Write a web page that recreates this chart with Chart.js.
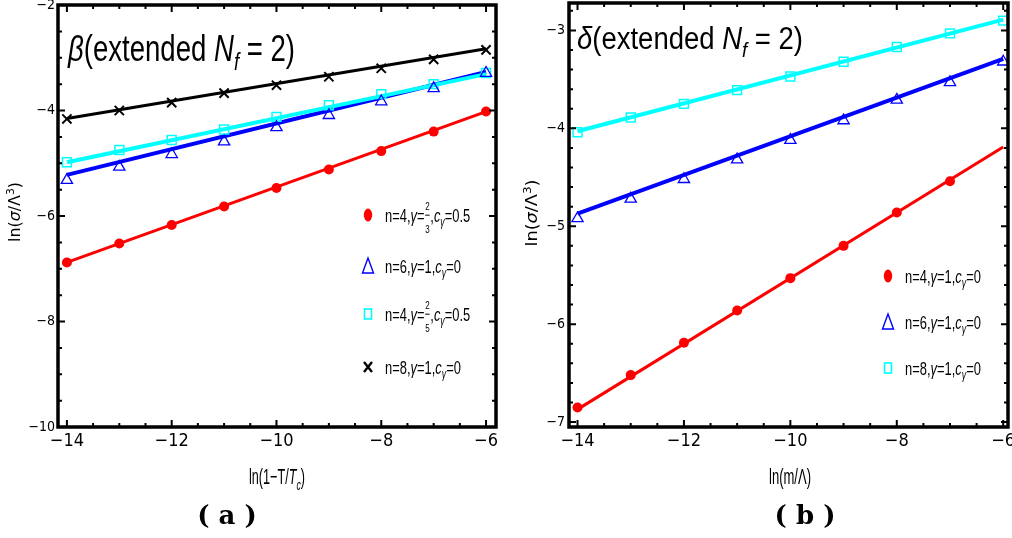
<!DOCTYPE html>
<html>
<head>
<meta charset="utf-8">
<script src="https://cdn.jsdelivr.net/npm/chart.js@4.4.1/dist/chart.umd.min.js"></script>
<style>
body { margin: 0; background: #fff; }
#wrap { position: relative; width: 1012px; height: 538px; overflow: hidden; }
canvas { position: absolute; top: 0; }
</style>
</head>
<body>
<div id="wrap">
  <canvas id="chartA" width="506" height="538" style="left:0"></canvas>
  <canvas id="chartB" width="506" height="538" style="left:506px"></canvas>
</div>
<script>
// x positions of the samples
const xSteps = [-14, -13, -12, -11, -10, -9, -8, -7, -6];
const xStepsShort = [-14, -13, -12, -11, -10, -9, -8, -7];
const fitEnds = [-14, -6];

// panel (a): beta
const redA = [-6.88, -6.52, -6.17, -5.82, -5.47, -5.12, -4.77, -4.40, -4.02];
const blueA = [-5.32, -5.07, -4.83, -4.59, -4.32, -4.09, -3.83, -3.58, -3.29];
const cyanA = [-4.98, -4.75, -4.56, -4.36, -4.12, -3.90, -3.69, -3.50, -3.29];
const blackA = [-4.16, -4.00, -3.85, -3.67, -3.52, -3.36, -3.20, -3.03, -2.85];
const redFitA = [-6.88, -4.02];
const blueFitA = [-5.22, -3.27];
const cyanFitA = [-4.98, -3.31];
const blackFitA = [-4.15, -2.83];

// panel (b): delta
const redB = [-6.85, -6.52, -6.19, -5.86, -5.53, -5.20, -4.86, -4.54];
const blueB = [-4.92, -4.72, -4.52, -4.32, -4.12, -3.92, -3.71, -3.53, -3.32];
const cyanB = [-4.04, -3.89, -3.75, -3.61, -3.47, -3.32, -3.17, -3.03, -2.90];
const redFitB = [-6.87, -4.19];
const blueFitB = [-4.87, -3.29];
const cyanFitB = [-4.03, -2.89];

// tick labels
const xTickLabels = [-14, -12, -10, -8, -6];
const yTickLabelsA = [-10, -8, -6, -4, -2];
const yTickLabelsB = [-7, -6, -5, -4, -3];

// legend texts
const legendA = [
  [{t: 'n=4,'}, {t: 'γ', it: 1}, {t: '='}, {frac: ['2', '3']}, {t: ','}, {t: 'c', it: 1}, {t: 'γ', it: 1, sub: 1}, {t: '=0.5'}],
  [{t: 'n=6,'}, {t: 'γ', it: 1}, {t: '=1,'}, {t: 'c', it: 1}, {t: 'γ', it: 1, sub: 1}, {t: '=0'}],
  [{t: 'n=4,'}, {t: 'γ', it: 1}, {t: '='}, {frac: ['2', '5']}, {t: ','}, {t: 'c', it: 1}, {t: 'γ', it: 1, sub: 1}, {t: '=0.5'}],
  [{t: 'n=8,'}, {t: 'γ', it: 1}, {t: '=1,'}, {t: 'c', it: 1}, {t: 'γ', it: 1, sub: 1}, {t: '=0'}]
];
const legendB = [
  [{t: 'n=4,'}, {t: 'γ', it: 1}, {t: '=1,'}, {t: 'c', it: 1}, {t: 'γ', it: 1, sub: 1}, {t: '=0'}],
  [{t: 'n=6,'}, {t: 'γ', it: 1}, {t: '=1,'}, {t: 'c', it: 1}, {t: 'γ', it: 1, sub: 1}, {t: '=0'}],
  [{t: 'n=8,'}, {t: 'γ', it: 1}, {t: '=1,'}, {t: 'c', it: 1}, {t: 'γ', it: 1, sub: 1}, {t: '=0'}]
];

const SANS = "'Liberation Sans', Arial, sans-serif";
const NARROW = "'Liberation Sans Narrow', 'Arial Narrow', 'DejaVu Sans Condensed', sans-serif";
const DEJAVU = "'DejaVu Sans', sans-serif";

const RED = '#ff0000', BLUE = '#0000ff', CYAN = '#00ffff', BLACK = '#000000';

function fnt(size, it, family) {
  return (it ? 'italic ' : '') + size + 'px ' + (family || SANS);
}

function runWidth(ctx, r, size, family) {
  if (r.frac) {
    ctx.font = fnt(size * 0.62, 0, family);
    return Math.max(ctx.measureText(r.frac[0]).width, ctx.measureText(r.frac[1]).width) + 2;
  }
  const s = (r.sub || r.sup) ? size * 0.68 : size;
  ctx.font = fnt(s, r.it, family);
  return ctx.measureText(r.t).width;
}

// draws a row of text pieces; y is the baseline unless opts.middle
function drawRich(ctx, runs, x, y, size, opts) {
  opts = opts || {};
  const total = runs.reduce((a, r) => a + runWidth(ctx, r, size, opts.family), 0);
  const sx = opts.width ? opts.width / total : (opts.squeeze || 1);
  ctx.save();
  ctx.translate(x, y);
  if (opts.rotate) ctx.rotate(opts.rotate);
  ctx.scale(sx, 1);
  ctx.fillStyle = '#000';
  ctx.textAlign = 'left';
  ctx.textBaseline = 'alphabetic';
  let cx = opts.center ? -total / 2 : 0;
  const base = opts.middle ? size * 0.35 : 0;
  for (const r of runs) {
    const w = runWidth(ctx, r, size, opts.family);
    if (r.frac) {
      ctx.font = fnt(size * 0.62, 0, opts.family);
      ctx.textAlign = 'center';
      ctx.fillText(r.frac[0], cx + w / 2, base - size * 0.6);
      ctx.fillText(r.frac[1], cx + w / 2, base + size * 0.6);
      ctx.fillRect(cx + 1, base - size * 0.36, w - 2, 1);
      ctx.textAlign = 'left';
    } else {
      const s = (r.sub || r.sup) ? size * 0.68 : size;
      ctx.font = fnt(s, r.it, opts.family);
      const dy = r.sub ? size * 0.25 : (r.sup ? -size * 0.4 : 0);
      ctx.fillText(r.t, cx, base + dy);
    }
    cx += w;
  }
  ctx.restore();
}

function ladder(min, max, step) {
  const out = [];
  for (let v = Math.ceil(min / step - 1e-9) * step; v <= max + 1e-9; v += step) out.push(+v.toFixed(6));
  return out;
}

// inward ticks on all four sides plus the heavy frame
const frameTicks = {
  id: 'frameTicks',
  afterDatasetsDraw(chart, args, opts) {
    const {ctx, chartArea: a, scales: {x, y}} = chart;
    const isMajor = (v, m) => Math.abs(v / m - Math.round(v / m)) < 1e-6;
    ctx.save();
    ctx.strokeStyle = '#000';
    ctx.lineWidth = 2;
    ctx.beginPath();
    for (const v of ladder(x.min, x.max, 0.5)) {
      const px = x.getPixelForValue(v);
      const len = isMajor(v, 2) ? 7 : 4;
      ctx.moveTo(px, a.bottom); ctx.lineTo(px, a.bottom - len);
      ctx.moveTo(px, a.top); ctx.lineTo(px, a.top + len);
    }
    for (const v of ladder(y.min, y.max, opts.yMinor)) {
      const py = y.getPixelForValue(v);
      const len = isMajor(v, opts.yMajor) ? 7 : 4;
      ctx.moveTo(a.left, py); ctx.lineTo(a.left + len, py);
      ctx.moveTo(a.right, py); ctx.lineTo(a.right - len, py);
    }
    ctx.stroke();
    ctx.lineWidth = 3.5;
    ctx.strokeRect(a.left, a.top, a.right - a.left, a.bottom - a.top);
    ctx.restore();
  }
};

function legendMarker(ctx, kind, x, y) {
  ctx.save();
  if (kind === 'circle') {
    ctx.fillStyle = RED;
    ctx.beginPath(); ctx.ellipse(x, y, 4.2, 6.5, 0, 0, Math.PI * 2); ctx.fill();
  } else if (kind === 'triangle') {
    ctx.strokeStyle = BLUE; ctx.lineWidth = 1.4;
    ctx.beginPath(); ctx.moveTo(x, y - 8); ctx.lineTo(x + 5.5, y + 7); ctx.lineTo(x - 5.5, y + 7); ctx.closePath(); ctx.stroke();
  } else if (kind === 'rect') {
    ctx.strokeStyle = CYAN; ctx.lineWidth = 1.6;
    ctx.strokeRect(x - 3.5, y - 5, 7, 10);
  } else {
    ctx.strokeStyle = BLACK; ctx.lineWidth = 2.4;
    ctx.beginPath();
    ctx.moveTo(x - 4, y - 5); ctx.lineTo(x + 4, y + 5);
    ctx.moveTo(x + 4, y - 5); ctx.lineTo(x - 4, y + 5);
    ctx.stroke();
  }
  ctx.restore();
}

function decor(p) {
  return {
    id: 'decor',
    afterDraw(chart) {
      const ctx = chart.ctx;
      drawRich(ctx, p.title, p.titleX, p.titleY, p.titleSize, {width: p.titleW});
      drawRich(ctx, p.xTitle, p.xTitleX, 484, 22, {width: p.xTitleW, center: true});
      drawRich(ctx, p.yTitle, p.yTitleX, p.yTitleY, 15, {width: p.yTitleW, center: true, middle: true, rotate: -Math.PI / 2, family: DEJAVU});
      p.legend.forEach((runs, i) => {
        legendMarker(ctx, p.markers[i], p.legX, p.legY[i]);
        drawRich(ctx, runs, p.legX + 17, p.legY[i] + 6.5, 19, {squeeze: 0.68});
      });
      ctx.save();
      ctx.fillStyle = '#000';
      ctx.font = "bold 26px 'DejaVu Serif', serif";
      ctx.textAlign = 'center';
      ctx.textBaseline = 'middle';
      ctx.fillText(p.caption, p.captionX, 517);
      ctx.restore();
    }
  };
}

function pts(xs, ys) {
  return xs.map((x, i) => ({x: x, y: ys[i]}));
}
function fitLine(ys, color, width) {
  return {data: pts(fitEnds, ys), showLine: true, borderColor: color, borderWidth: width, pointRadius: 0, order: 2};
}
function marks(xs, ys, style) {
  return Object.assign({data: pts(xs, ys), showLine: false, order: 1}, style);
}

const redDot = {pointStyle: 'circle', pointRadius: 5, pointBackgroundColor: RED, pointBorderColor: RED, pointBorderWidth: 0};
const blueTri = {pointStyle: 'triangle', pointRadius: 6.5, pointBackgroundColor: 'rgba(0,0,0,0)', pointBorderColor: BLUE, pointBorderWidth: 1.3};
const cyanBox = {pointStyle: 'rect', pointRadius: 6.3, pointBackgroundColor: 'rgba(0,0,0,0)', pointBorderColor: CYAN, pointBorderWidth: 1.5};
const blackX = {pointStyle: 'crossRot', pointRadius: 6.5, pointBorderColor: BLACK, pointBorderWidth: 2};

const fmt = v => (v < 0 ? '\u2212' + Math.abs(v) : String(v));

function makeChart(id, c) {
  return new Chart(document.getElementById(id), {
    type: 'scatter',
    data: {datasets: c.datasets},
    options: {
      responsive: false,
      animation: false,
      devicePixelRatio: 1,
      events: [],
      layout: {padding: c.padding, autoPadding: false},
      plugins: {legend: {display: false}, tooltip: {enabled: false}, frameTicks: c.ticks},
      scales: {
        x: {
          type: 'linear', min: c.xMin, max: c.xMax,
          grid: {display: false, drawTicks: false}, border: {display: false},
          afterBuildTicks: s => { s.ticks = xTickLabels.map(v => ({value: v})); },
          afterFit: s => { s.height = 111; s.paddingLeft = 0; s.paddingRight = 0; },
          ticks: {font: {family: NARROW, size: 18}, color: '#000', padding: 4, callback: fmt, maxRotation: 0, autoSkip: false}
        },
        y: {
          type: 'linear', min: c.yMin, max: c.yMax,
          grid: {display: false, drawTicks: false}, border: {display: false},
          afterBuildTicks: s => { s.ticks = c.yLabels.map(v => ({value: v})); },
          afterFit: s => { s.width = c.yWidth; s.paddingTop = 0; s.paddingBottom = 0; },
          ticks: {font: {family: NARROW, size: 14}, color: '#000', padding: c.yPad, callback: fmt, autoSkip: false}
        }
      }
    },
    plugins: [frameTicks, decor(c.decor)]
  });
}

const yTitle = [{t: 'ln('}, {t: 'σ', it: 1}, {t: '/Λ'}, {t: '3', sup: 1}, {t: ')'}];

makeChart('chartA', {
  datasets: [
    fitLine(redFitA, RED, 3), fitLine(cyanFitA, CYAN, 4), fitLine(blueFitA, BLUE, 4), fitLine(blackFitA, BLACK, 3),
    marks(xSteps, redA, redDot), marks(xSteps, blueA, blueTri), marks(xSteps, cyanA, cyanBox), marks(xSteps, blackA, blackX)
  ],
  padding: {left: 0, right: 10, top: 5, bottom: 0},
  xMin: -14.17, xMax: -5.81, yMin: -10, yMax: -2,
  yLabels: yTickLabelsA, yWidth: 58, yPad: 3,
  ticks: {yMinor: 0.5, yMajor: 2},
  decor: {
    title: [{t: 'β', it: 1}, {t: '(extended '}, {t: 'N', it: 1}, {t: 'f', it: 1, sub: 1}, {t: ' = 2)'}],
    titleX: 68, titleY: 61, titleSize: 36, titleW: 227,
    xTitle: [{t: 'ln(1\u2212T/'}, {t: 'T', it: 1}, {t: 'c', it: 1, sub: 1}, {t: ')'}], xTitleX: 277, xTitleW: 56,
    yTitle: yTitle, yTitleX: 15, yTitleY: 212, yTitleW: 60,
    legend: legendA, markers: ['circle', 'triangle', 'rect', 'cross'],
    legX: 368, legY: [215, 266, 314, 367],
    caption: '( a )', captionX: 227
  }
});

makeChart('chartB', {
  datasets: [
    fitLine(redFitB, RED, 3), fitLine(blueFitB, BLUE, 4), fitLine(cyanFitB, CYAN, 4),
    marks(xStepsShort, redB, redDot), marks(xSteps, blueB, blueTri), marks(xSteps, cyanB, cyanBox)
  ],
  padding: {left: 0, right: 4, top: 3, bottom: 0},
  xMin: -14.16, xMax: -5.91, yMin: -7.05, yMax: -2.72,
  yLabels: yTickLabelsB, yWidth: 63, yPad: 4,
  ticks: {yMinor: 0.2, yMajor: 1},
  decor: {
    title: [{t: 'δ', it: 1}, {t: '(extended '}, {t: 'N', it: 1}, {t: 'f', it: 1, sub: 1}, {t: ' = 2)'}],
    titleX: 71, titleY: 49, titleSize: 31, titleW: 226,
    xTitle: [{t: 'ln(m/Λ)'}], xTitleX: 284, xTitleW: 42,
    yTitle: yTitle, yTitleX: 26, yTitleY: 213, yTitleW: 67,
    legend: legendB, markers: ['circle', 'triangle', 'rect'],
    legX: 382, legY: [276, 322, 368],
    caption: '( b )', captionX: 299
  }
});
</script>
</body>
</html>
